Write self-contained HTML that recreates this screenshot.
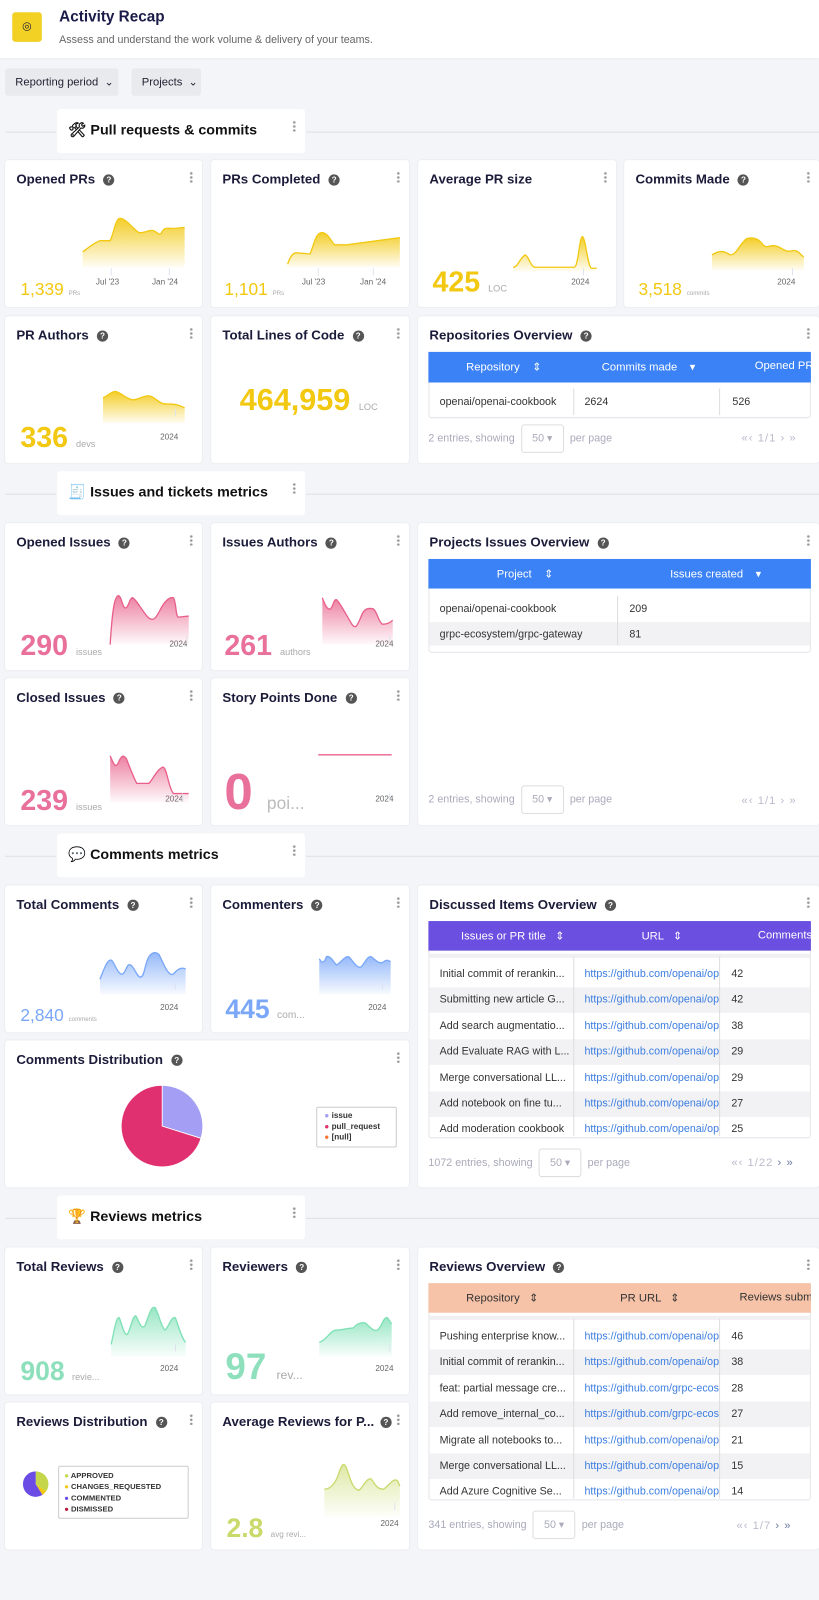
<!DOCTYPE html>
<html><head><meta charset="utf-8">
<style>
*{box-sizing:border-box;margin:0;padding:0}
body{width:819px;height:1600px;background:#f4f5f8;font-family:"Liberation Sans",sans-serif;position:relative;overflow:hidden;color:#1b1b3a}
#w{position:absolute;left:0;top:0;width:803px;height:1569px;transform:scale(1.02);transform-origin:0 0}
.a{position:absolute}
.card{position:absolute;background:#fff;border-radius:3px;box-shadow:0 0 0 1px #eceef2}
.t{position:absolute;left:11px;top:11px;font-size:13px;font-weight:bold;color:#1b1b3a;white-space:nowrap}
.q{display:inline-block;width:11px;height:11px;border-radius:50%;background:#555;color:#fff;font-size:8px;text-align:center;line-height:11px;margin-left:8px;vertical-align:1px}
.k{position:absolute;right:9px;top:11px;width:3px;height:11px;background:radial-gradient(circle,#999 1.2px,transparent 1.4px) 0 0/3px 4px}
.sec{position:absolute;left:56px;width:243px;height:43px;background:#fff;border-radius:3px;font-size:14px;font-weight:bold;padding:12px 0 0 11px;color:#111}
.ln{position:absolute;height:1px;background:#dde0e6}
.num{position:absolute;white-space:nowrap}
.u{font-size:9px;color:#aaa;font-weight:normal}
.ax{position:absolute;font-size:8px;color:#666}
.th{position:absolute;color:#fff;font-size:11px;white-space:nowrap;overflow:hidden}
.row{position:absolute;left:420px;width:375px;font-size:10.5px;color:#333;white-space:nowrap}
.row span{position:absolute;top:0}
.lk{color:#3b7de0}
.pg{position:absolute;font-size:10.5px;color:#aab;white-space:nowrap}
.sel{display:inline-block;border:1px solid #ddd;border-radius:3px;width:42px;height:28px;text-align:center;line-height:26px;margin:0 6px;color:#aab}
.flt{position:absolute;top:67px;height:27px;background:#e8eaee;border-radius:3px;font-size:11px;color:#223;padding:7px 0 0 10px}
.nav{position:absolute;font-size:11px;color:#bbc;white-space:nowrap;letter-spacing:1px}
</style></head><body><div id="w">
<div class="a" style="left:0;top:0;width:803px;height:57px;background:#fff;box-shadow:0 1px 2px #e2e4e8"></div>
<div class="a" style="left:12px;top:12px;width:29px;height:29px;background:#f2d024;border-radius:3px;text-align:center;line-height:29px;font-size:11px">◎</div>
<div class="a" style="left:58px;top:8px;font-size:15px;font-weight:bold;color:#1b1b4a">Activity Recap</div>
<div class="a" style="left:58px;top:33px;font-size:10.5px;color:#666">Assess and understand the work volume &amp; delivery of your teams.</div>
<div class="flt" style="left:5px;width:111px">Reporting period &nbsp;⌄</div>
<div class="flt" style="left:129px;width:68px">Projects &nbsp;⌄</div>

<div class="ln" style="left:5px;width:50px;top:129px"></div><div class="ln" style="left:300px;width:503px;top:129px"></div>
<div class="sec" style="top:107px">🛠 Pull requests &amp; commits<div class="k"></div></div>
<div class="ln" style="left:5px;width:50px;top:484px"></div><div class="ln" style="left:300px;width:503px;top:484px"></div>
<div class="sec" style="top:462px">🧾 Issues and tickets metrics<div class="k"></div></div>
<div class="ln" style="left:5px;width:50px;top:839px"></div><div class="ln" style="left:300px;width:503px;top:839px"></div>
<div class="sec" style="top:817px">💬 Comments metrics<div class="k"></div></div>
<div class="ln" style="left:5px;width:50px;top:1194px"></div><div class="ln" style="left:300px;width:503px;top:1194px"></div>
<div class="sec" style="top:1172px">🏆 Reviews metrics<div class="k"></div></div>

<div class="card" style="left:5px;top:157px;width:193px;height:144px"><div class="t">Opened PRs<span class="q">?</span></div><div class="k"></div>
<div class="num" style="left:15px;top:117px;font-size:17px;color:#f2c811">1,339 <span class="u" style="font-size:6px">PRs</span></div>
<div class="ax" style="left:89px;top:115px">Jul '23</div><div class="ax" style="left:144px;top:115px">Jan '24</div></div>
<div class="card" style="left:207px;top:157px;width:194px;height:144px"><div class="t">PRs Completed<span class="q">?</span></div><div class="k"></div>
<div class="num" style="left:13px;top:117px;font-size:17px;color:#f2c811">1,101 <span class="u" style="font-size:6px">PRs</span></div>
<div class="ax" style="left:89px;top:115px">Jul '23</div><div class="ax" style="left:146px;top:115px">Jan '24</div></div>
<div class="card" style="left:410px;top:157px;width:194px;height:144px"><div class="t">Average PR size</div><div class="k"></div>
<div class="num" style="left:14px;top:104px;font-size:28px;font-weight:bold;color:#f2c811">425 <span class="u">LOC</span></div>
<div class="ax" style="left:150px;top:115px">2024</div></div>
<div class="card" style="left:612px;top:157px;width:191px;height:144px"><div class="t">Commits Made<span class="q">?</span></div><div class="k"></div>
<div class="num" style="left:14px;top:117px;font-size:17px;color:#f2c811">3,518 <span class="u" style="font-size:6px">commits</span></div>
<div class="ax" style="left:150px;top:115px">2024</div></div>
<div class="card" style="left:5px;top:310px;width:193px;height:144px"><div class="t">PR Authors<span class="q">?</span></div><div class="k"></div>
<div class="num" style="left:15px;top:103px;font-size:28px;font-weight:bold;color:#f2c811">336 <span class="u">devs</span></div>
<div class="ax" style="left:152px;top:114px">2024</div></div>
<div class="card" style="left:207px;top:310px;width:194px;height:144px"><div class="t">Total Lines of Code<span class="q">?</span></div><div class="k"></div>
<div class="num" style="left:28px;top:66px;font-size:30px;font-weight:bold;color:#f2c811">464,959 <span class="u">LOC</span></div></div>
<div class="card" style="left:410px;top:310px;width:393px;height:144px"><div class="t">Repositories Overview<span class="q">?</span></div><div class="k"></div></div>
<div class="a" style="left:420px;top:345px;width:375px;height:65px;border:1px solid #e3e5ea;border-radius:3px"></div>
<div class="a" style="left:420px;top:345px;width:375px;height:30px;background:#3b82f6"></div>
<div class="th" style="left:457px;top:353px">Repository &nbsp; &nbsp;⇕</div>
<div class="th" style="left:590px;top:353px">Commits made &nbsp; &nbsp;▾</div>
<div class="th" style="left:740px;top:353px;width:55px">Opened PRs</div>
<div class="row" style="top:388px"><span style="left:11px">openai/openai-cookbook</span><span style="left:153px">2624</span><span style="left:298px">526</span></div>
<div class="a" style="left:562px;top:381px;width:1px;height:26px;background:#ddd"></div><div class="a" style="left:705px;top:381px;width:1px;height:26px;background:#ddd"></div>
<div class="pg" style="left:420px;top:416px">2 entries, showing<span class="sel">50 ▾</span>per page</div>
<div class="nav" style="left:727px;top:424px">«‹ 1/1 › »</div>

<div class="card" style="left:5px;top:513px;width:193px;height:144px"><div class="t">Opened Issues<span class="q">?</span></div><div class="k"></div>
<div class="num" style="left:15px;top:104px;font-size:28px;font-weight:bold;color:#e8709a">290 <span class="u">issues</span></div>
<div class="ax" style="left:161px;top:114px">2024</div></div>
<div class="card" style="left:207px;top:513px;width:194px;height:144px"><div class="t">Issues Authors<span class="q">?</span></div><div class="k"></div>
<div class="num" style="left:13px;top:104px;font-size:28px;font-weight:bold;color:#e8709a">261 <span class="u">authors</span></div>
<div class="ax" style="left:161px;top:114px">2024</div></div>
<div class="card" style="left:5px;top:665px;width:193px;height:144px"><div class="t">Closed Issues<span class="q">?</span></div><div class="k"></div>
<div class="num" style="left:15px;top:104px;font-size:28px;font-weight:bold;color:#e8709a">239 <span class="u">issues</span></div>
<div class="ax" style="left:157px;top:114px">2024</div></div>
<div class="card" style="left:207px;top:665px;width:194px;height:144px"><div class="t">Story Points Done<span class="q">?</span></div><div class="k"></div>
<div class="num" style="left:13px;top:82px;font-size:50px;font-weight:bold;color:#e8709a">0 <span class="u" style="font-size:17px;color:#bbb">poi...</span></div>
<div class="ax" style="left:161px;top:114px">2024</div></div>
<div class="card" style="left:410px;top:513px;width:393px;height:296px"><div class="t">Projects Issues Overview<span class="q">?</span></div><div class="k"></div></div>
<div class="a" style="left:420px;top:548px;width:375px;height:92px;border:1px solid #e3e5ea;border-radius:3px"></div>
<div class="a" style="left:420px;top:548px;width:375px;height:29px;background:#3b82f6"></div>
<div class="th" style="left:487px;top:556px">Project &nbsp; &nbsp;⇕</div>
<div class="th" style="left:657px;top:556px">Issues created &nbsp; &nbsp;▾</div>
<div class="a" style="left:421px;top:610px;width:373px;height:23px;background:#f2f2f4"></div>
<div class="row" style="top:591px"><span style="left:11px">openai/openai-cookbook</span><span style="left:197px">209</span></div>
<div class="row" style="top:616px"><span style="left:11px">grpc-ecosystem/grpc-gateway</span><span style="left:197px">81</span></div>
<div class="a" style="left:605px;top:584px;width:1px;height:48px;background:#ddd"></div>
<div class="pg" style="left:420px;top:770px">2 entries, showing<span class="sel">50 ▾</span>per page</div>
<div class="nav" style="left:727px;top:779px">«‹ 1/1 › »</div>

<div class="card" style="left:5px;top:868px;width:193px;height:144px"><div class="t">Total Comments<span class="q">?</span></div><div class="k"></div>
<div class="num" style="left:15px;top:118px;font-size:17px;color:#7aa7f8">2,840 <span class="u" style="font-size:6px">comments</span></div>
<div class="ax" style="left:152px;top:115px">2024</div></div>
<div class="card" style="left:207px;top:868px;width:194px;height:144px"><div class="t">Commenters<span class="q">?</span></div><div class="k"></div>
<div class="num" style="left:14px;top:106px;font-size:26px;font-weight:bold;color:#7aa7f8">445 <span class="u" style="font-size:10px">com...</span></div>
<div class="ax" style="left:154px;top:115px">2024</div></div>
<div class="card" style="left:5px;top:1020px;width:396px;height:144px"><div class="t">Comments Distribution<span class="q">?</span></div><div class="k"></div>
<div class="a" style="left:305px;top:65px;width:79px;height:40px;border:1px solid #ccc;border-radius:2px;font-size:8px;font-weight:bold;color:#333;padding:3px 0 0 7px;line-height:10.5px">
<div><span style="color:#a59ef5">●</span> issue</div><div><span style="color:#e03070">●</span> pull_request</div><div><span style="color:#f07830">●</span> [null]</div></div></div>
<div class="card" style="left:410px;top:868px;width:393px;height:296px"><div class="t">Discussed Items Overview<span class="q">?</span></div><div class="k"></div></div>
<div class="a" style="left:420px;top:903px;width:375px;height:213px;border:1px solid #e3e5ea;border-radius:3px"></div>
<div class="a" style="left:420px;top:903px;width:375px;height:29px;background:#6a4fe0"></div>
<div class="th" style="left:452px;top:911px">Issues or PR title &nbsp; ⇕</div>
<div class="th" style="left:629px;top:911px">URL &nbsp; ⇕</div>
<div class="th" style="left:743px;top:911px;width:52px">Comments made</div>
<div class="a" style="left:421px;top:935px;width:373px;height:4px;background:#f0f0f2"></div>
<div class="a" style="left:421px;top:968px;width:373px;height:25px;background:#f2f2f4"></div>
<div class="a" style="left:421px;top:1019px;width:373px;height:25px;background:#f2f2f4"></div>
<div class="a" style="left:421px;top:1070px;width:373px;height:25px;background:#f2f2f4"></div>
<div class="a" style="left:562px;top:938px;width:1px;height:176px;background:#ddd"></div><div class="a" style="left:705px;top:938px;width:1px;height:176px;background:#ddd"></div>
<div class="row" style="top:949px"><span style="left:11px">Initial commit of rerankin...</span><span class="lk" style="left:153px">https://github.com/openai/op</span><span style="left:297px">42</span></div>
<div class="row" style="top:974px"><span style="left:11px">Submitting new article G...</span><span class="lk" style="left:153px">https://github.com/openai/op</span><span style="left:297px">42</span></div>
<div class="row" style="top:1000px"><span style="left:11px">Add search augmentatio...</span><span class="lk" style="left:153px">https://github.com/openai/op</span><span style="left:297px">38</span></div>
<div class="row" style="top:1025px"><span style="left:11px">Add Evaluate RAG with L...</span><span class="lk" style="left:153px">https://github.com/openai/op</span><span style="left:297px">29</span></div>
<div class="row" style="top:1051px"><span style="left:11px">Merge conversational LL...</span><span class="lk" style="left:153px">https://github.com/openai/op</span><span style="left:297px">29</span></div>
<div class="row" style="top:1076px"><span style="left:11px">Add notebook on fine tu...</span><span class="lk" style="left:153px">https://github.com/openai/op</span><span style="left:297px">27</span></div>
<div class="row" style="top:1101px"><span style="left:11px">Add moderation cookbook</span><span class="lk" style="left:153px">https://github.com/openai/op</span><span style="left:297px">25</span></div>
<div class="pg" style="left:420px;top:1126px">1072 entries, showing<span class="sel">50 ▾</span>per page</div>
<div class="nav" style="left:717px;top:1134px">«‹ 1/22 <span style="color:#6a7aa0">› »</span></div>

<div class="card" style="left:5px;top:1223px;width:193px;height:144px"><div class="t">Total Reviews<span class="q">?</span></div><div class="k"></div>
<div class="num" style="left:15px;top:106px;font-size:26px;font-weight:bold;color:#8ee0bd">908 <span class="u" style="font-size:9px">revie...</span></div>
<div class="ax" style="left:152px;top:114px">2024</div></div>
<div class="card" style="left:207px;top:1223px;width:194px;height:144px"><div class="t">Reviewers<span class="q">?</span></div><div class="k"></div>
<div class="num" style="left:14px;top:96px;font-size:36px;font-weight:bold;color:#8ee0bd">97 <span class="u" style="font-size:12px">rev...</span></div>
<div class="ax" style="left:161px;top:114px">2024</div></div>
<div class="card" style="left:5px;top:1375px;width:193px;height:144px"><div class="t">Reviews Distribution<span class="q">?</span></div><div class="k"></div>
<div class="a" style="left:52px;top:62px;width:128px;height:52px;border:1px solid #ccc;border-radius:2px;font-size:7.5px;font-weight:bold;color:#333;padding:3px 0 0 5px;line-height:11px">
<div><span style="color:#c5d64a">●</span> APPROVED</div><div><span style="color:#f2c811">●</span> CHANGES_REQUESTED</div><div><span style="color:#6b4de6">●</span> COMMENTED</div><div><span style="color:#b81c3c">●</span> DISMISSED</div></div></div>
<div class="card" style="left:207px;top:1375px;width:194px;height:144px"><div class="t">Average Reviews for P...<span class="q" style="margin-left:6px">?</span></div><div class="k"></div>
<div class="num" style="left:15px;top:108px;font-size:26px;font-weight:bold;color:#c9d96a">2.8 <span class="u" style="font-size:8px">avg revi...</span></div>
<div class="ax" style="left:166px;top:114px">2024</div></div>
<div class="card" style="left:410px;top:1223px;width:393px;height:296px"><div class="t">Reviews Overview<span class="q">?</span></div><div class="k"></div></div>
<div class="a" style="left:420px;top:1258px;width:375px;height:213px;border:1px solid #e3e5ea;border-radius:3px"></div>
<div class="a" style="left:420px;top:1258px;width:375px;height:29px;background:#f6c3a8"></div>
<div class="th" style="left:457px;top:1266px;color:#333">Repository &nbsp; ⇕</div>
<div class="th" style="left:608px;top:1266px;color:#333">PR URL &nbsp; ⇕</div>
<div class="th" style="left:725px;top:1266px;width:70px;color:#333">Reviews submitted</div>
<div class="a" style="left:421px;top:1290px;width:373px;height:4px;background:#f0f0f2"></div>
<div class="a" style="left:421px;top:1323px;width:373px;height:25px;background:#f2f2f4"></div>
<div class="a" style="left:421px;top:1374px;width:373px;height:25px;background:#f2f2f4"></div>
<div class="a" style="left:421px;top:1425px;width:373px;height:25px;background:#f2f2f4"></div>
<div class="a" style="left:562px;top:1293px;width:1px;height:176px;background:#ddd"></div><div class="a" style="left:705px;top:1293px;width:1px;height:176px;background:#ddd"></div>
<div class="row" style="top:1304px"><span style="left:11px">Pushing enterprise know...</span><span class="lk" style="left:153px">https://github.com/openai/op</span><span style="left:297px">46</span></div>
<div class="row" style="top:1329px"><span style="left:11px">Initial commit of rerankin...</span><span class="lk" style="left:153px">https://github.com/openai/op</span><span style="left:297px">38</span></div>
<div class="row" style="top:1355px"><span style="left:11px">feat: partial message cre...</span><span class="lk" style="left:153px">https://github.com/grpc-ecos</span><span style="left:297px">28</span></div>
<div class="row" style="top:1380px"><span style="left:11px">Add remove_internal_co...</span><span class="lk" style="left:153px">https://github.com/grpc-ecos</span><span style="left:297px">27</span></div>
<div class="row" style="top:1406px"><span style="left:11px">Migrate all notebooks to...</span><span class="lk" style="left:153px">https://github.com/openai/op</span><span style="left:297px">21</span></div>
<div class="row" style="top:1431px"><span style="left:11px">Merge conversational LL...</span><span class="lk" style="left:153px">https://github.com/openai/op</span><span style="left:297px">15</span></div>
<div class="row" style="top:1456px"><span style="left:11px">Add Azure Cognitive Se...</span><span class="lk" style="left:153px">https://github.com/openai/op</span><span style="left:297px">14</span></div>
<div class="pg" style="left:420px;top:1481px">341 entries, showing<span class="sel">50 ▾</span>per page</div>
<div class="nav" style="left:722px;top:1490px">«‹ 1/7 <span style="color:#6a7aa0">› »</span></div>

<svg class="a" style="left:0;top:0" width="803" height="1569" viewBox="0 0 803 1569">
<defs>
<linearGradient id="gy" x1="0" y1="0" x2="0" y2="1"><stop offset="0" stop-color="#f2c811" stop-opacity=".9"/><stop offset="1" stop-color="#f2c811" stop-opacity=".05"/></linearGradient>
<linearGradient id="gp" x1="0" y1="0" x2="0" y2="1"><stop offset="0" stop-color="#e8608a" stop-opacity=".8"/><stop offset="1" stop-color="#e8608a" stop-opacity=".03"/></linearGradient>
<linearGradient id="gb" x1="0" y1="0" x2="0" y2="1"><stop offset="0" stop-color="#7aa7f8" stop-opacity=".8"/><stop offset="1" stop-color="#7aa7f8" stop-opacity=".05"/></linearGradient>
<linearGradient id="gg" x1="0" y1="0" x2="0" y2="1"><stop offset="0" stop-color="#7ee0b5" stop-opacity=".8"/><stop offset="1" stop-color="#7ee0b5" stop-opacity=".05"/></linearGradient>
<linearGradient id="go" x1="0" y1="0" x2="0" y2="1"><stop offset="0" stop-color="#c9d96a" stop-opacity=".6"/><stop offset="1" stop-color="#c9d96a" stop-opacity=".03"/></linearGradient>
</defs>
<g stroke-width="1.3">
<path d="M81,247 C88,242 92,238 98,236 L108,236 C112,228 113,214 118,214 C124,215 128,222 136,228 C141,229 146,225 150,226 C154,227 155,231 158,229 C161,222 164,224 170,224 L181,223 L181,262 L81,262Z" fill="url(#gy)" stroke="none"/>
<path d="M81,247 C88,242 92,238 98,236 L108,236 C112,228 113,214 118,214 C124,215 128,222 136,228 C141,229 146,225 150,226 C154,227 155,231 158,229 C161,222 164,224 170,224 L181,223" fill="none" stroke="#f2c811"/>
<path d="M282,259 C285,250 288,247 292,248 L304,249 C308,240 309,228 316,228 C322,229 324,236 328,240 L340,240 L392,233 L392,262 L282,262Z" fill="url(#gy)"/>
<path d="M282,259 C285,250 288,247 292,248 L304,249 C308,240 309,228 316,228 C322,229 324,236 328,240 L340,240 L392,233" fill="none" stroke="#f2c811"/>
<path d="M503,262 C508,262 510,252 515,250 C519,252 520,262 525,262 L563,262 C567,262 568,232 571,232 C574,232 576,262 580,263 L585,263 L585,266 L503,266Z" fill="url(#gy)"/>
<path d="M503,262 C508,262 510,252 515,250 C519,252 520,262 525,262 L563,262 C567,262 568,232 571,232 C574,232 576,262 580,263 L585,263" fill="none" stroke="#f2c811"/>
<path d="M698,250 C705,245 710,246 716,250 C722,250 726,238 732,234 C738,232 744,234 748,240 C752,244 754,240 760,241 C766,242 770,248 776,246 C782,244 785,250 788,252 L788,265 L698,265Z" fill="url(#gy)"/>
<path d="M698,250 C705,245 710,246 716,250 C722,250 726,238 732,234 C738,232 744,234 748,240 C752,244 754,240 760,241 C766,242 770,248 776,246 C782,244 785,250 788,252" fill="none" stroke="#f2c811"/>
<path d="M101,390 C106,388 110,383 114,384 C120,386 124,391 130,392 C136,392 140,388 146,388 C152,389 156,396 162,396 C168,396 174,396 181,400 L181,415 L101,415Z" fill="url(#gy)"/>
<path d="M101,390 C106,388 110,383 114,384 C120,386 124,391 130,392 C136,392 140,388 146,388 C152,389 156,396 162,396 C168,396 174,396 181,400" fill="none" stroke="#f2c811"/>
<path d="M108,632 C110,600 112,585 116,584 C119,584 120,596 123,596 C126,596 127,586 130,586 C134,588 140,600 145,605 C150,610 153,606 157,598 C161,590 166,585 170,586 C173,590 172,605 175,605 L185,604 L185,632Z" fill="url(#gp)"/>
<path d="M108,632 C110,600 112,585 116,584 C119,584 120,596 123,596 C126,596 127,586 130,586 C134,588 140,600 145,605 C150,610 153,606 157,598 C161,590 166,585 170,586 C173,590 172,605 175,605 L185,604" fill="none" stroke="#e8608a"/>
<path d="M316,586 C319,594 321,598 324,597 C327,594 327,587 330,588 C334,592 340,604 345,612 C349,618 351,612 355,602 C358,596 362,596 366,597 C370,600 371,610 375,612 C379,612 382,611 385,608 L385,632 L316,632Z" fill="url(#gp)"/>
<path d="M316,586 C319,594 321,598 324,597 C327,594 327,587 330,588 C334,592 340,604 345,612 C349,618 351,612 355,602 C358,596 362,596 366,597 C370,600 371,610 375,612 C379,612 382,611 385,608" fill="none" stroke="#e8608a"/>
<path d="M108,741 C111,748 113,754 116,748 C119,740 121,740 124,744 C127,752 130,760 134,768 L146,768 C150,764 154,754 160,752 C164,754 165,772 170,778 L185,778 L185,787 L108,787Z" fill="url(#gp)"/>
<path d="M108,741 C111,748 113,754 116,748 C119,740 121,740 124,744 C127,752 130,760 134,768 L146,768 C150,764 154,754 160,752 C164,754 165,772 170,778 L185,778" fill="none" stroke="#e8608a"/>
<path d="M312,740 L384,740" stroke="#e8608a"/>
<path d="M98,960 C102,950 106,938 110,942 C113,946 116,956 120,955 C124,953 124,944 128,946 C132,948 134,958 138,958 C142,957 142,944 146,938 C150,932 154,934 156,936 C160,944 165,958 170,955 C174,950 178,948 182,950 L182,975 L98,975Z" fill="url(#gb)"/>
<path d="M98,960 C102,950 106,938 110,942 C113,946 116,956 120,955 C124,953 124,944 128,946 C132,948 134,958 138,958 C142,957 142,944 146,938 C150,932 154,934 156,936 C160,944 165,958 170,955 C174,950 178,948 182,950" fill="none" stroke="#7aa7f8"/>
<path d="M313,940 C316,945 318,944 320,938 C324,936 328,945 330,946 C334,944 338,937 342,938 C346,942 350,950 354,948 C358,944 360,937 364,938 C368,941 372,946 376,943 C380,940 381,942 383,943 L383,975 L313,975Z" fill="url(#gb)"/>
<path d="M313,940 C316,945 318,944 320,938 C324,936 328,945 330,946 C334,944 338,937 342,938 C346,942 350,950 354,948 C358,944 360,937 364,938 C368,941 372,946 376,943 C380,940 381,942 383,943" fill="none" stroke="#7aa7f8"/>
<path d="M109,1318 C112,1305 114,1290 117,1292 C120,1300 122,1310 125,1308 C128,1303 130,1290 133,1290 C136,1294 138,1304 142,1300 C146,1290 148,1280 152,1282 C156,1288 158,1302 162,1304 C166,1300 168,1290 172,1292 C175,1300 178,1312 182,1316 L182,1330 L109,1330Z" fill="url(#gg)"/>
<path d="M109,1318 C112,1305 114,1290 117,1292 C120,1300 122,1310 125,1308 C128,1303 130,1290 133,1290 C136,1294 138,1304 142,1300 C146,1290 148,1280 152,1282 C156,1288 158,1302 162,1304 C166,1300 168,1290 172,1292 C175,1300 178,1312 182,1316" fill="none" stroke="#7ee0b5"/>
<path d="M313,1316 C320,1314 324,1304 330,1304 C336,1304 340,1302 346,1302 C350,1298 354,1296 358,1297 C362,1300 366,1306 370,1304 C374,1302 376,1290 380,1292 L384,1298 L384,1330 L313,1330Z" fill="url(#gg)"/>
<path d="M313,1316 C320,1314 324,1304 330,1304 C336,1304 340,1302 346,1302 C350,1298 354,1296 358,1297 C362,1300 366,1306 370,1304 C374,1302 376,1290 380,1292 L384,1298" fill="none" stroke="#7ee0b5"/>
<path d="M318,1460 C322,1460 326,1458 330,1450 C334,1440 336,1430 340,1440 C344,1452 346,1460 352,1461 C356,1458 360,1448 364,1450 C368,1456 370,1460 376,1460 C382,1456 386,1448 390,1452 L392,1457 L392,1487 L318,1487Z" fill="url(#go)"/>
<path d="M318,1460 C322,1460 326,1458 330,1450 C334,1440 336,1430 340,1440 C344,1452 346,1460 352,1461 C356,1458 360,1448 364,1450 C368,1456 370,1460 376,1460 C382,1456 386,1448 390,1452 L392,1457" fill="none" stroke="#c9d96a"/>
</g>
<g stroke="#dde3ee" stroke-width="1">
<path d="M109,263V270M166,263V270M312,263V270M366,263V270M572,263V270M777,263V270M172,401V408M183,623V630M382,623V630M179,778V785M382,778V785M172,963V970M375,963V970M172,1318V1325M382,1318V1325M387,1473V1480"/>
</g>
<path d="M159,1104 L159,1064 A40,40 0 0 1 197,1116 Z" fill="#a59ef5" stroke="#fff" stroke-width=".8"/>
<path d="M159,1104 L197,1116 A40,40 0 1 1 159,1064 Z" fill="#e03070" stroke="#fff" stroke-width=".8"/>
<path d="M35,1455 L35,1442.5 A12.5,12.5 0 0 1 45.1,1462.3 Z" fill="#c5d64a"/>
<path d="M35,1455 L45.1,1462.3 A12.5,12.5 0 0 1 41.6,1465.6 Z" fill="#f2c811"/>
<path d="M35,1455 L41.6,1465.6 A12.5,12.5 0 1 1 35,1442.5 Z" fill="#6b4de6"/>
</svg>
</div></body></html>
